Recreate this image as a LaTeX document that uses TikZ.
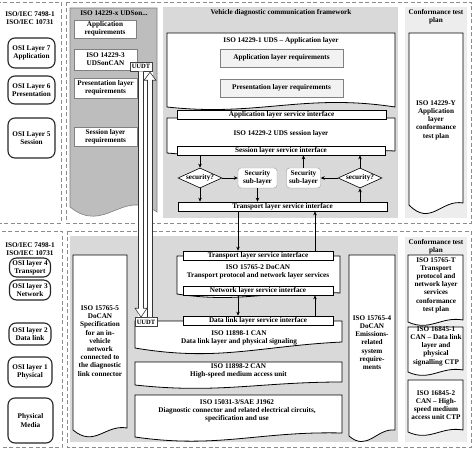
\documentclass[tikz,border=0pt]{standalone}
\usepackage{fontspec}
\setmainfont{Liberation Serif}
\usepackage{xcolor}
\usetikzlibrary{arrows.meta,positioning,calc,shapes.geometric}

\definecolor{fwgrey}{HTML}{D9D9D9}
\definecolor{udsgrey}{HTML}{BDBDBD}
\definecolor{ctpgrey}{HTML}{EDEDED}
\definecolor{boxgrey}{HTML}{F2F2F2}
\definecolor{edgegrey}{HTML}{808080}

\tikzset{
  txt/.style={align=center,inner sep=0pt},
  dashframe/.style={draw=black!45,dash pattern=on 4pt off 2.5pt,line width=0.9pt},
  docline/.style={draw=black,fill=white,line width=0.8pt},
  osi/.style={draw=black!85,fill=white,line width=1.1pt,rounded corners=7pt,align=center,inner sep=1pt},
  reqbox/.style={draw=edgegrey,fill=white,line width=0.6pt,align=center,inner sep=1pt},
  innerreq/.style={draw=edgegrey,fill=boxgrey,line width=0.6pt,align=center,minimum width=123,minimum height=18},
  iface/.style={draw=black,fill=white,line width=0.7pt,minimum height=9,inner sep=0pt},
  secdia/.style={diamond,draw=black,fill=white,line width=0.6pt,aspect=2.4,inner sep=0pt,minimum width=44,minimum height=20},
  secbox/.style={draw=black!40,fill=white,rounded corners=3pt,minimum height=20,inner sep=1pt,align=center},
  uudt/.style={draw=black!75,fill=white,line width=0.6pt,font=\fontsize{6.5}{7}\selectfont\bfseries,minimum width=22,minimum height=9,inner sep=0.5pt},
  hollow/.style={draw=black!80,fill=white,line width=0.6pt},
  arr/.style={-{Stealth[length=4pt,width=3.5pt]},line width=0.6pt}
}

\newcommand\docshape[8][]{%
  \pgfmathsetmacro\docw{#4-#2}%
  \draw[docline,#1] (#2,#3) -- (#4,#3) -- (#4,#6)
    .. controls +({-0.4*\docw},#7) and +({0.4*\docw},#8) .. (#2,#5) -- cycle;}

\begin{document}
\begin{tikzpicture}[x=1pt,y=-1pt,font=\fontsize{7.2}{8.2}\selectfont\bfseries]
  \useasboundingbox (0,0) rectangle (474,449);
  \draw[dashframe] (-2,2) rectangle (61,223);
  \draw[dashframe] (66,2) rectangle (471,223);
  \draw[dashframe] (-2,231) rectangle (62,447);
  \draw[dashframe] (67,231) rectangle (471,447);
  \fill[fwgrey] (163,7) rectangle (398,218);
  \fill[ctpgrey] (405,7) rectangle (467,218);
  \fill[fwgrey] (70,236) rectangle (398,442);
  \fill[ctpgrey] (405,237) rectangle (467,442);

  \node[txt] (osiref1) at (30,18) {ISO/IEC 7498-1\\ISO/IEC 10731};
  \node[osi,minimum width=47,minimum height=30] (l7) at (31.5,53) {OSI Layer 7\\Application};
  \node[osi,minimum width=47,minimum height=28] (l6) at (31.5,90) {OSI Layer 6\\Presentation};
  \node[osi,minimum width=47,minimum height=40] (l5) at (31.5,138) {OSI Layer 5\\Session};
  \node[txt] (osiref2) at (30,249) {ISO/IEC 7498-1\\ISO/IEC 10731};
  \node[osi,minimum width=41,minimum height=19] (l4) at (30,267.5) {OSI layer 4\\Transport};
  \node[osi,minimum width=41,minimum height=20] (l3) at (30,290) {OSI layer 3\\Network};
  \node[osi,minimum width=42,minimum height=22] (l2) at (30,334) {OSI layer 2\\Data link};
  \node[osi,minimum width=44,minimum height=30] (l1) at (30,372) {OSI layer 1\\Physical};
  \node[osi,minimum width=45,minimum height=45] (media) at (30.5,420.5) {Physical\\Media};

  \docshape[fill=udsgrey,draw=edgegrey,line width=0.6pt]{70}{8}{157}{207}{212}{-24}{28}
  \fill[white] (138,71) rectangle (153,318);
  \node[txt] (udsx) at (114,13) {ISO 14229-x UDSon...};
  \node[reqbox,minimum width=62,minimum height=18] (appreq) at (105,29) {Application\\requirements};
  \node[reqbox,minimum width=63,minimum height=21] (udscan) at (105.5,59.5) {ISO 14229-3\\UDSonCAN};
  \node[reqbox,minimum width=63,minimum height=20] (presreq) at (105.5,88) {Presentation layer\\requirements};
  \node[reqbox,minimum width=63,minimum height=19] (sessreq) at (105.5,136.5) {Session layer\\requirements};

  \node[txt] (fwtitle) at (281,13) {Vehicle diagnostic communication framework};
  \docshape{167}{33}{395}{107}{107}{-14}{10}
  \node[txt] (appttl) at (281,41) {ISO 14229-1 UDS -- Application layer};
  \node[innerreq] (alreq) at (281.5,58) {Application layer requirements};
  \node[innerreq] (plreq) at (281.5,88) {Presentation layer requirements};
  \docshape{167}{118}{395}{153}{151}{-4}{8}
  \node[txt] (sessttl) at (281,134) {ISO 14229-2 UDS session layer};
  \node[iface,minimum width=209] (appif) at (281.5,114.5) {Application layer service interface};
  \node[iface,minimum width=208] (sessif) at (281,150.5) {Session layer service interface};
  \node[secdia] (ldia) at (200,178) {security?};
  \node[secbox,minimum width=39] (sec1) at (257.5,178) {Security\\sub-layer};
  \node[secbox,minimum width=34] (sec2) at (303.5,178) {Security\\sub-layer};
  \node[secdia] (rdia) at (360,178) {security?};
  \node[iface,minimum width=209] (trif1) at (282.5,206.5) {Transport layer service interface};

  \node[txt] (ctp1) at (436,17) {Conformance test\\plan};
  \docshape{409}{33}{463}{205}{203}{-4}{22}
  \node[txt] (ctpY) at (436,120) {ISO 14229-Y\\Application\\layer\\conformance\\test plan};

  \docshape{73}{255}{127}{430}{428}{-4}{18}
  \node[txt] (docan5) at (100,341) {ISO 15765-5\\DoCAN\\Specification\\for an in-\\vehicle\\network\\connected to\\the diagnostic\\link connector};
  \docshape{177}{256}{340}{294}{293}{-4}{10}
  \node[txt] (docan2) at (258,271.5) {ISO 15765-2 DoCAN\\Transport protocol and network layer services};
  \node[iface,minimum width=150] (trif2) at (258,255.5) {Transport layer service interface};
  \node[iface,minimum width=150] (netif) at (258,290.5) {Network layer service interface};
  \docshape{135}{321}{342}{348}{342}{4}{14}
  \node[iface,minimum width=150] (dlif) at (258,320.5) {Data link layer service interface};
  \node[txt] (can1) at (239,337.5) {ISO 11898-1 CAN\\Data link layer and physical signaling};
  \docshape{135}{362}{342}{385}{382}{0}{9}
  \node[txt] (can2) at (238.5,370.5) {ISO 11898-2 CAN\\High-speed medium access unit};
  \docshape{135}{395}{342}{437}{433}{-2}{12}
  \node[txt] (j1962) at (237,411) {ISO 15031-3/SAE J1962\\Diagnostic connector and related electrical circuits,\\specification and use};
  \docshape{349}{255}{395}{436}{430}{-2}{16}
  \node[txt] (docan4) at (372,342.5) {ISO 15765-4\\DoCAN\\Emissions-\\related\\system\\require-\\ments};

  \node[txt] (ctp2) at (436,247) {Conformance test\\plan};
  \docshape{408}{255}{463}{322}{320}{-4}{10}
  \node[txt] (ctpT) at (436,285) {ISO 15765-T\\Transport\\protocol and\\network layer\\services\\conformance\\test plan};
  \docshape{408}{327}{463}{372}{370}{-4}{10}
  \node[txt] (ctpA) at (436,346) {ISO 16845-1\\CAN -- Data link\\layer and\\physical\\signalling CTP};
  \docshape{408}{380}{463}{432}{430}{-4}{10}
  \node[txt] (ctpB) at (436,405) {ISO 16845-2\\CAN -- High-\\speed medium\\access unit CTP};

  \node[uudt] (uudtA) at (141,66.5) {UUDT};
  \node[uudt] (uudtB) at (146,322) {UUDT};
  \draw[hollow] let \p1=(uudtA.south), \p2=(uudtB.north) in
    (\x1-2.5pt,\y1) -- (\x1-2.5pt,\y2+9pt) -- (\x1-6pt,\y2+9pt) -- (\x1,\y2)
    -- (\x1+6pt,\y2+9pt) -- (\x1+2.5pt,\y2+9pt) -- (\x1+2.5pt,\y1);
  \draw[hollow] let \p1=(uudtB.north), \p2=(uudtA.south) in
    (\x1+1.5pt,\y1) -- (\x1+1.5pt,\y2-9pt) -- (\x1-2pt,\y2-9pt) -- (\x1+4pt,\y2-1pt)
    -- (\x1+10pt,\y2-9pt) -- (\x1+6.5pt,\y2-9pt) -- (\x1+6.5pt,\y1);

  \draw[arr] (ldia.north |- sessif.south) -- (ldia.north);
  \draw[arr] (ldia.east) -- (sec1.west);
  \draw[arr] (ldia.south) -- (ldia.south |- trif1.north);
  \draw[arr] (sec1.south) -- (sec1.south |- trif1.north);
  \draw[arr] (sec2.north) -- (sec2.north |- sessif.south);
  \draw[arr] (rdia.west) -- (sec2.east);
  \draw[arr] (rdia.north) -- (rdia.north |- sessif.south);
  \draw[arr] (rdia.south |- trif1.north) -- (rdia.south);
  \coordinate (dnx) at (238,0);
  \coordinate (upx) at (315,0);
  \draw[arr] (trif1.south -| dnx) -- (trif2.north -| dnx);
  \draw[arr] (trif2.north -| upx) -- (trif1.south -| upx);
  \draw[arr] (netif.south -| dnx) -- (dlif.north -| dnx);
  \draw[arr] (dlif.north -| upx) -- (netif.south -| upx);
\end{tikzpicture}
\end{document}
